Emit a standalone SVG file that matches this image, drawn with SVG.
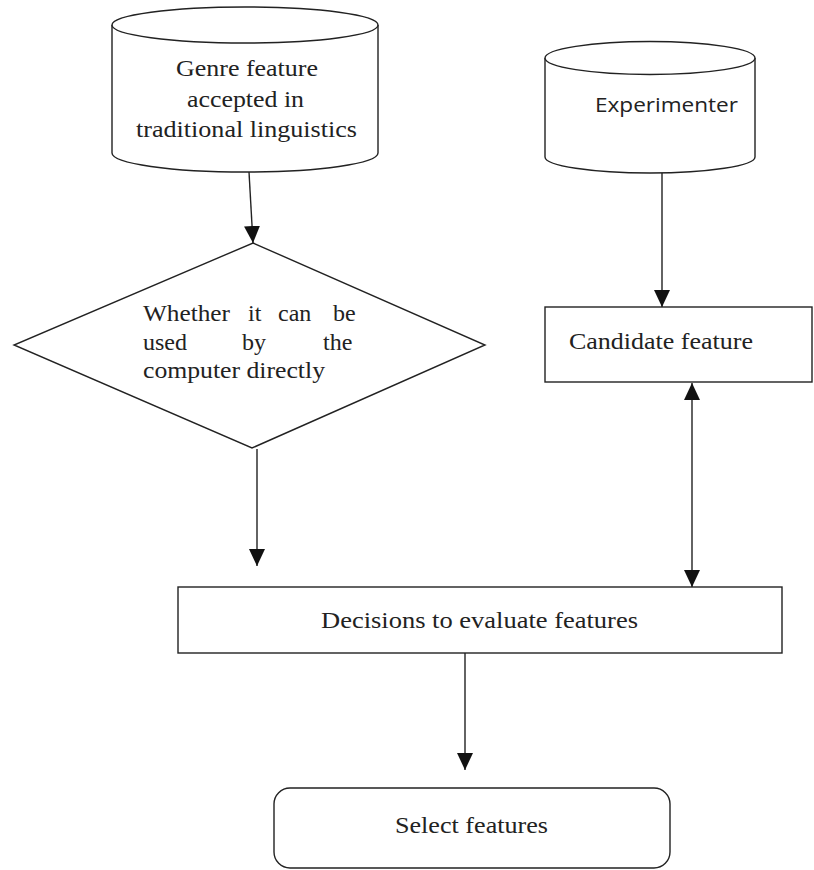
<svg xmlns="http://www.w3.org/2000/svg" width="814" height="870" viewBox="0 0 814 870">
<style>
.s{fill:#fff;stroke:#222;stroke-width:1.4}
.t{font-family:"Liberation Serif","Times New Roman",serif;font-size:24px;fill:#222}
.ts{font-family:"Open Sans","Liberation Sans",sans-serif;font-size:20px;fill:#222}
.c{fill:none;stroke:#222;stroke-width:1.4}
</style>
<defs>
<marker id="ah" markerWidth="17" markerHeight="16" refX="17" refY="8" orient="auto" markerUnits="userSpaceOnUse">
<path d="M0,0 L17,8 L0,16 Z" fill="#111"/>
</marker>
<marker id="as" markerWidth="17" markerHeight="16" refX="0" refY="8" orient="auto" markerUnits="userSpaceOnUse">
<path d="M17,0 L0,8 L17,16 Z" fill="#111"/>
</marker>
</defs>
<rect width="814" height="870" fill="#fff"/>
<g id="genre">
<path class="s" d="M112,25 L112,153 A133,19 0 0 0 378,153 L378,25"/>
<ellipse class="s" cx="245" cy="25" rx="133" ry="18"/>
<text class="t" x="176" y="76" textLength="142" lengthAdjust="spacingAndGlyphs">Genre feature</text>
<text class="t" x="187" y="107" textLength="117" lengthAdjust="spacingAndGlyphs">accepted in</text>
<text class="t" x="136" y="137" textLength="221" lengthAdjust="spacingAndGlyphs">traditional linguistics</text>
</g>
<g id="experimenter">
<path class="s" d="M545,58 L545,157 A105,16 0 0 0 755,157 L755,58"/>
<ellipse class="s" cx="650" cy="58" rx="105" ry="16.5"/>
<text class="ts" x="595" y="112" textLength="143" lengthAdjust="spacingAndGlyphs">Experimenter</text>
</g>
<g id="decision">
<polygon class="s" points="253,243 485,345 252,448 14,345"/>
<text class="t" x="143" y="321" textLength="87" lengthAdjust="spacingAndGlyphs">Whether</text>
<text class="t" x="248" y="321">it</text>
<text class="t" x="278" y="321">can</text>
<text class="t" x="333" y="321">be</text>
<text class="t" x="143" y="350">used</text>
<text class="t" x="242" y="350">by</text>
<text class="t" x="323" y="350">the</text>
<text class="t" x="143" y="378" textLength="182" lengthAdjust="spacingAndGlyphs">computer directly</text>
</g>
<g id="candidate">
<rect class="s" x="545" y="307" width="267" height="75"/>
<text class="t" x="569" y="349" textLength="184" lengthAdjust="spacingAndGlyphs">Candidate feature</text>
</g>
<g id="evaluate">
<rect class="s" x="178" y="587" width="604" height="66"/>
<text class="t" x="321" y="628" textLength="317" lengthAdjust="spacingAndGlyphs">Decisions to evaluate features</text>
</g>
<g id="select">
<rect class="s" x="274" y="788" width="396" height="80" rx="16" ry="16"/>
<text class="t" x="395" y="833" textLength="153" lengthAdjust="spacingAndGlyphs">Select features</text>
</g>
<g id="connectors">
<line class="c" x1="249" y1="172" x2="253" y2="243" marker-end="url(#ah)"/>
<line class="c" x1="257" y1="449" x2="257" y2="566" marker-end="url(#ah)"/>
<line class="c" x1="662" y1="173" x2="662" y2="307" marker-end="url(#ah)"/>
<line class="c" x1="692" y1="383" x2="692" y2="587" marker-start="url(#as)" marker-end="url(#ah)"/>
<line class="c" x1="465" y1="653" x2="465" y2="770" marker-end="url(#ah)"/>
</g>
</svg>
